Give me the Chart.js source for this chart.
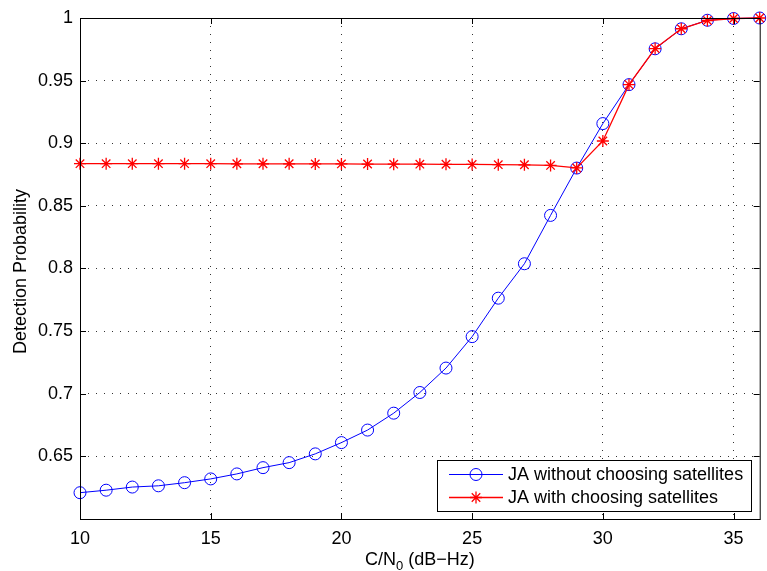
<!DOCTYPE html>
<html>
<head>
<meta charset="utf-8">
<title>Detection Probability vs C/N0</title>
<script src="https://cdn.jsdelivr.net/npm/chart.js@4.4.0/dist/chart.umd.min.js"></script>
<style>
  html, body { margin: 0; padding: 0; background: #fff; }
  canvas { display: block; }
</style>
</head>
<body>
<canvas id="detChart" width="767" height="571"></canvas>
<script>
// C/N0 in dB-Hz
const cn0 = [10, 11, 12, 13, 14, 15, 16, 17, 18, 19, 20, 21, 22, 23, 24, 25, 26, 27, 28, 29, 30, 31, 32, 33, 34, 35, 36];

// detection probability, JA without choosing satellites
const withoutChoosing = [0.621, 0.623, 0.6255, 0.6265, 0.629, 0.632, 0.636, 0.641, 0.645, 0.652, 0.661, 0.671, 0.6845, 0.701, 0.7205, 0.7456, 0.7763, 0.8038, 0.8424, 0.8802, 0.9157, 0.9468, 0.9754, 0.9914, 0.9982, 0.9996, 1.0];

// detection probability, JA with choosing satellites
const withChoosing = [0.8837, 0.8837, 0.8837, 0.8837, 0.8837, 0.8837, 0.8836, 0.8836, 0.8836, 0.8835, 0.8835, 0.8834, 0.8833, 0.8833, 0.8832, 0.8831, 0.8829, 0.8828, 0.8823, 0.8803, 0.9018, 0.9468, 0.9756, 0.9914, 0.998, 0.9996, 1.0];

const seriesNames = ['JA without choosing satellites', 'JA with choosing satellites'];
const xTickValues = [10, 15, 20, 25, 30, 35];
const yTickValues = [0.65, 0.7, 0.75, 0.8, 0.85, 0.9, 0.95, 1];
const xRange = [10, 36];
const yRange = [0.6, 1];

const FONT = '"Liberation Sans", Arial, Helvetica, sans-serif';
const BLUE = '#0000ff';
const RED = '#ff0000';

function toPoints(ys) {
  return cn0.map((x, i) => ({ x: x, y: ys[i] }));
}

function drawStar(ctx, cx, cy, r) {
  ctx.beginPath();
  ctx.moveTo(cx - r, cy); ctx.lineTo(cx + r, cy);
  ctx.moveTo(cx, cy - r); ctx.lineTo(cx, cy + r);
  const d = r * Math.SQRT1_2;
  ctx.moveTo(cx - d, cy - d); ctx.lineTo(cx + d, cy + d);
  ctx.moveTo(cx - d, cy + d); ctx.lineTo(cx + d, cy - d);
  ctx.stroke();
}

// box, inward ticks, legend and axis titles in the matlab look
const matlabAxes = {
  id: 'matlabAxes',
  afterDraw(chart) {
    const { ctx, chartArea: a } = chart;
    const x = chart.scales.x, y = chart.scales.y;
    ctx.save();
    ctx.strokeStyle = '#000';
    ctx.lineWidth = 1;
    ctx.setLineDash([]);
    ctx.strokeRect(a.left + 0.5, a.top + 0.5, a.right - a.left, a.bottom - a.top);

    const tl = 6;
    ctx.beginPath();
    xTickValues.forEach(v => {
      const px = Math.round(x.getPixelForValue(v)) + 0.5;
      ctx.moveTo(px, a.bottom); ctx.lineTo(px, a.bottom - tl);
      ctx.moveTo(px, a.top); ctx.lineTo(px, a.top + tl);
    });
    yTickValues.forEach(v => {
      const py = Math.round(y.getPixelForValue(v)) + 0.5;
      ctx.moveTo(a.left, py); ctx.lineTo(a.left + tl, py);
      ctx.moveTo(a.right, py); ctx.lineTo(a.right - tl, py);
    });
    ctx.stroke();

    // legend
    ctx.font = '18px ' + FONT;
    const textW = Math.max(...seriesNames.map(s => ctx.measureText(s).width));
    const bw = Math.round(71 + textW + 8);
    const bh = 51;
    const bx = Math.round(a.right - 9 - bw);
    const by = Math.round(a.bottom - 8 - bh);
    ctx.fillStyle = '#fff';
    ctx.fillRect(bx, by, bw, bh);
    ctx.strokeRect(bx + 0.5, by + 0.5, bw, bh);

    const rows = [by + 14.5, by + 37.5];
    const colors = [BLUE, RED];
    rows.forEach((ry, i) => {
      ctx.strokeStyle = colors[i];
      ctx.lineWidth = i === 0 ? 1 : 1.3;
      ctx.beginPath();
      ctx.moveTo(bx + 12, ry); ctx.lineTo(bx + 66, ry);
      ctx.stroke();
      const mx = bx + 39;
      if (i === 0) {
        ctx.beginPath();
        ctx.arc(mx, ry, 6, 0, Math.PI * 2);
        ctx.stroke();
      } else {
        drawStar(ctx, mx, ry, 6);
      }
      ctx.fillStyle = '#000';
      ctx.textAlign = 'left';
      ctx.textBaseline = 'middle';
      ctx.fillText(seriesNames[i], bx + 71, ry + 1);
    });

    // x title with subscript
    ctx.fillStyle = '#000';
    ctx.textBaseline = 'alphabetic';
    ctx.textAlign = 'left';
    const big = '18px ' + FONT, small = '13px ' + FONT;
    ctx.font = big;
    const w1 = ctx.measureText('C/N').width;
    const w3 = ctx.measureText(' (dB\u2212Hz)').width;
    ctx.font = small;
    const w2 = ctx.measureText('0').width;
    const cx = (a.left + a.right) / 2;
    const tx = cx - (w1 + w2 + w3) / 2;
    const base = 565;
    ctx.font = big;
    ctx.fillText('C/N', tx, base);
    ctx.font = small;
    ctx.fillText('0', tx + w1, base + 5);
    ctx.font = big;
    ctx.fillText(' (dB\u2212Hz)', tx + w1 + w2, base);

    // y title
    ctx.save();
    ctx.translate(21, (a.top + a.bottom) / 2 + 3);
    ctx.rotate(-Math.PI / 2);
    ctx.textAlign = 'center';
    ctx.textBaseline = 'middle';
    ctx.font = '18px ' + FONT;
    ctx.fillText('Detection Probability', 0, 0);
    ctx.restore();

    ctx.restore();
  }
};

const ctx = document.getElementById('detChart').getContext('2d');

new Chart(ctx, {
  type: 'line',
  data: {
    datasets: [{
      label: seriesNames[0],
      data: toPoints(withoutChoosing),
      borderColor: BLUE,
      backgroundColor: 'rgba(0,0,0,0)',
      borderWidth: 1,
      pointStyle: 'circle',
      pointRadius: 6,
      pointBorderWidth: 1,
      pointBorderColor: BLUE,
      pointBackgroundColor: 'rgba(0,0,0,0)',
      tension: 0,
      clip: false,
      order: 1
    }, {
      label: seriesNames[1],
      data: toPoints(withChoosing),
      borderColor: RED,
      backgroundColor: 'rgba(0,0,0,0)',
      borderWidth: 1.3,
      pointStyle: 'star',
      pointRadius: 6,
      pointBorderWidth: 1.3,
      pointBorderColor: RED,
      tension: 0,
      clip: false,
      order: 0
    }]
  },
  options: {
    responsive: false,
    animation: false,
    events: [],
    layout: { padding: { top: 18, right: 5, left: 0, bottom: 0 } },
    plugins: {
      legend: { display: false },
      tooltip: { enabled: false }
    },
    scales: {
      x: {
        type: 'linear',
        min: xRange[0],
        max: xRange[1],
        afterBuildTicks: s => { s.ticks = xTickValues.map(v => ({ value: v })); },
        afterFit: s => { s.height = 52; },
        grid: { color: 'rgba(0,0,0,0.8)', lineWidth: 1, drawTicks: false },
        border: { display: false, dash: [1, 7] },
        ticks: {
          color: '#000',
          font: { family: FONT, size: 18 },
          padding: 9,
          maxRotation: 0,
          callback: v => String(v)
        }
      },
      y: {
        type: 'linear',
        min: yRange[0],
        max: yRange[1],
        afterBuildTicks: s => { s.ticks = yTickValues.map(v => ({ value: v })); },
        afterFit: s => { s.width = 80; },
        grid: { color: 'rgba(0,0,0,0.8)', lineWidth: 1, drawTicks: false },
        border: { display: false, dash: [1, 7] },
        ticks: {
          color: '#000',
          font: { family: FONT, size: 18 },
          padding: 7,
          callback: v => String(Math.round(v * 100) / 100)
        }
      }
    }
  },
  plugins: [matlabAxes]
});
</script>
</body>
</html>
